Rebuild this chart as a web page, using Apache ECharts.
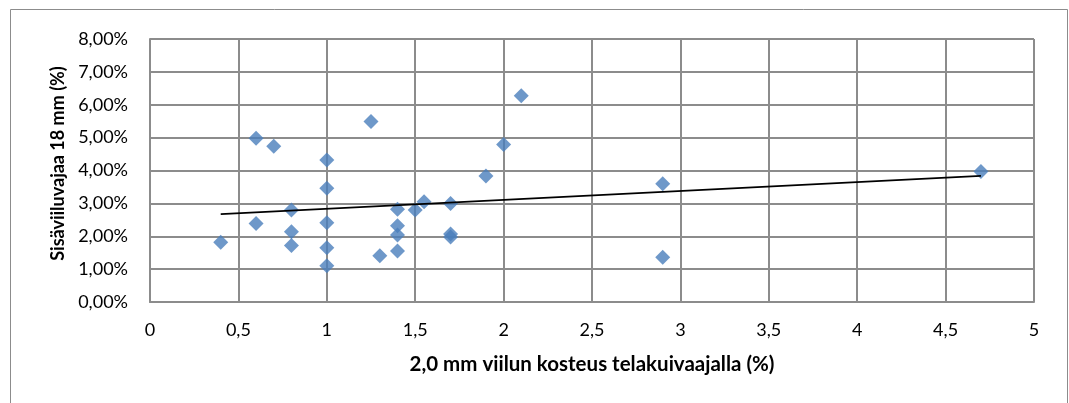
<!DOCTYPE html>
<html>
<head>
<meta charset="utf-8">
<script src="https://cdn.jsdelivr.net/npm/echarts@6/dist/echarts.min.js"></script>
<style>
  html, body { margin: 0; padding: 0; background: #fff; }
  #chart { width: 1069px; height: 403px; }
</style>
</head>
<body>
<div id="chart"></div>
<script>
// Veneer moisture after the roller dryer (%) vs. inner-veneer moisture (%)
const dryerMoisture = [0.4, 0.6, 0.6, 0.7, 0.8, 0.8, 0.8, 1.0, 1.0, 1.0, 1.0, 1.0,
  1.25, 1.3, 1.4, 1.4, 1.4, 1.4, 1.5, 1.55, 1.7, 1.7, 1.7, 1.9, 2.0, 2.1, 2.9, 2.9, 4.7];
const innerMoisture = [1.82, 2.39, 4.98, 4.74, 2.80, 2.14, 1.72, 4.32, 3.46, 2.41, 1.65, 1.10,
  5.49, 1.41, 2.82, 2.32, 2.04, 1.55, 2.80, 3.05, 3.00, 2.07, 1.98, 3.83, 4.79, 6.27, 3.60, 1.36, 3.97];

const xTitle = '2,0 mm viilun kosteus telakuivaajalla (%)';
const yTitle = 'Sisäviiluvajaa 18 mm (%)';

// least-squares linear trend through the points
function trend(xs, ys) {
  const n = xs.length;
  const mx = xs.reduce((a, b) => a + b, 0) / n;
  const my = ys.reduce((a, b) => a + b, 0) / n;
  let sxy = 0, sxx = 0;
  for (let i = 0; i < n; i++) {
    sxy += (xs[i] - mx) * (ys[i] - my);
    sxx += (xs[i] - mx) * (xs[i] - mx);
  }
  const k = sxy / sxx, b = my - k * mx;
  const x0 = Math.min(...xs), x1 = Math.max(...xs);
  return [[x0, k * x0 + b], [x1, k * x1 + b]];
}

const points = dryerMoisture.map((x, i) => [x, innerMoisture[i]]);
const font = 'Lato, "Open Sans", sans-serif';
const gridColor = '#8c8c8c';

const chart = echarts.init(document.getElementById('chart'));
chart.setOption({
  animation: false,
  backgroundColor: '#fff',
  graphic: [{
    type: 'rect',
    shape: { x: 10.5, y: 9.5, width: 1057, height: 430 },
    style: { fill: 'none', stroke: '#8c8c8c', lineWidth: 1 },
    silent: true
  }],
  grid: { left: 150, right: 35, top: 39, bottom: 101 },
  xAxis: {
    type: 'value', min: 0, max: 5, interval: 0.5,
    name: xTitle, nameLocation: 'middle', nameGap: 52,
    nameTextStyle: { fontFamily: font, fontSize: 20.5, fontWeight: 'bold', color: '#000' },
    axisLine: { show: true, lineStyle: { color: gridColor, width: 2 } },
    axisTick: { show: false },
    axisLabel: {
      margin: 19, fontFamily: font, fontSize: 18, color: '#000',
      formatter: v => String(v).replace('.', ',')
    },
    splitLine: { show: true, lineStyle: { color: gridColor, width: 2 } }
  },
  yAxis: {
    type: 'value', min: 0, max: 8, interval: 1,
    name: yTitle, nameLocation: 'middle', nameGap: 82,
    nameTextStyle: { fontFamily: font, fontSize: 18, fontWeight: 'bold', color: '#000', padding: [0, 0, 0, 14] },
    axisLine: { show: true, lineStyle: { color: gridColor, width: 2 } },
    axisTick: { show: false },
    axisLabel: {
      margin: 22, fontFamily: font, fontSize: 18, color: '#000',
      formatter: v => v.toFixed(2).replace('.', ',') + '%'
    },
    splitLine: { show: true, lineStyle: { color: gridColor, width: 2 } }
  },
  series: [{
    type: 'scatter',
    data: points,
    symbol: 'diamond',
    symbolSize: [15, 15],
    itemStyle: { color: '#4a7ebb' },
    z: 3
  }, {
    type: 'line',
    data: trend(dryerMoisture, innerMoisture),
    symbol: 'none',
    lineStyle: { color: '#000', width: 1.8 },
    z: 4
  }]
});
</script>
</body>
</html>
